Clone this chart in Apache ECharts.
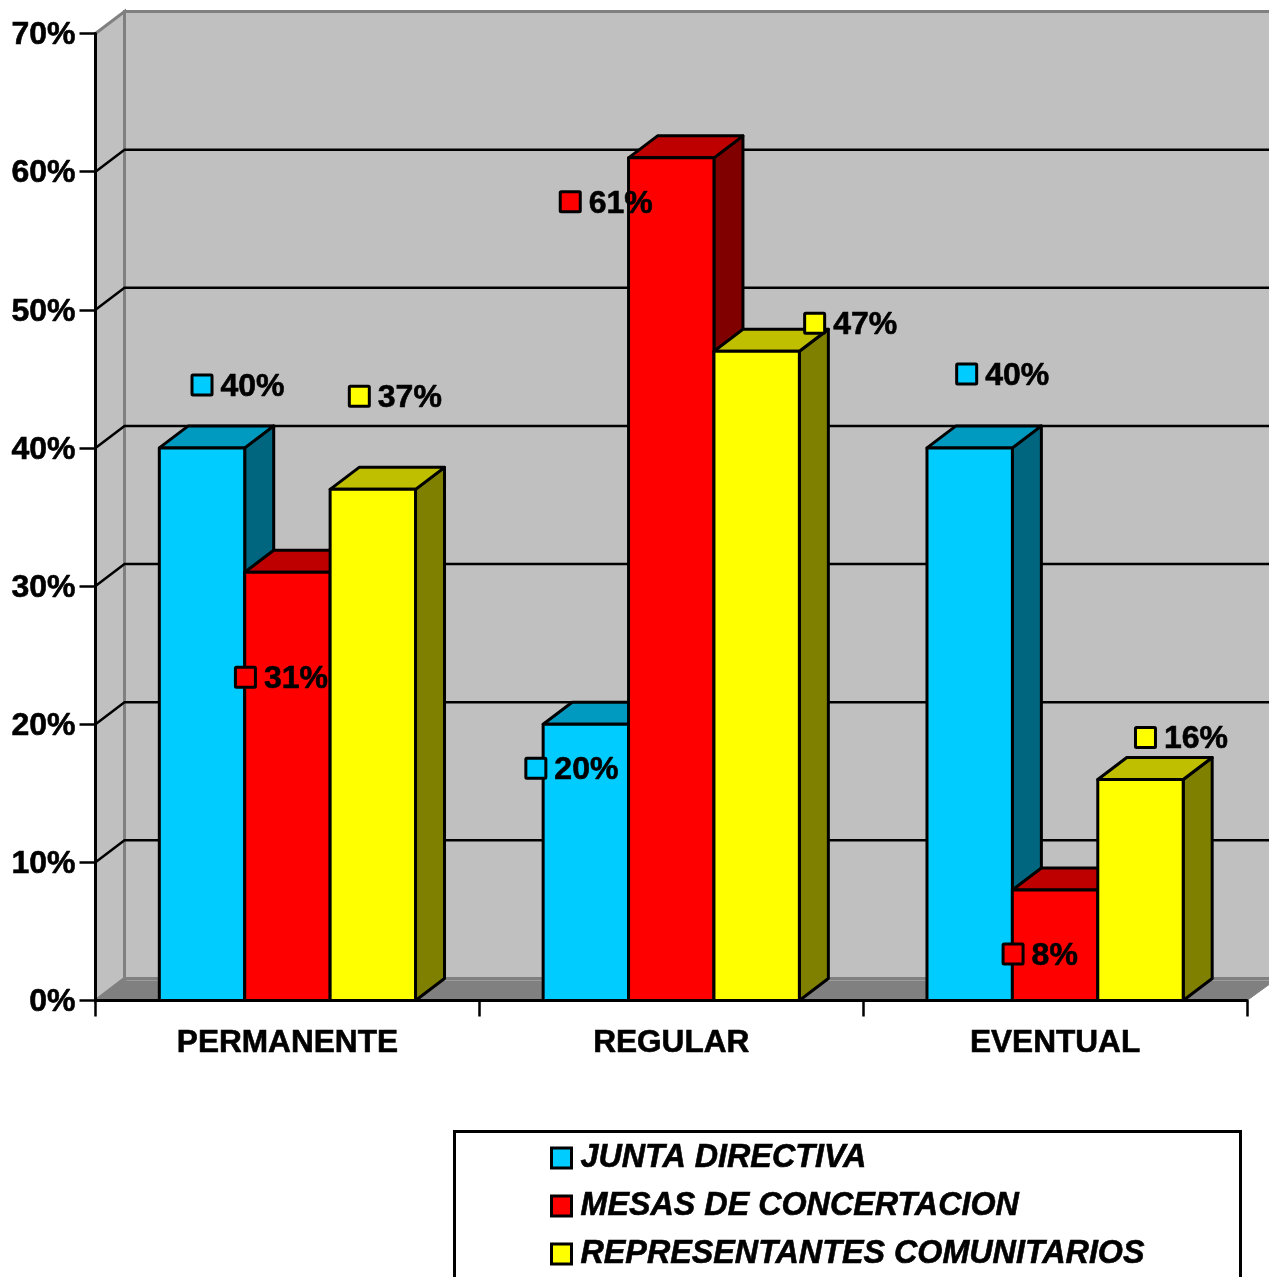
<!DOCTYPE html>
<html>
<head>
<meta charset="utf-8">
<style>html,body{margin:0;padding:0;background:#fff;overflow:hidden}#chart{width:1269px;height:1277px}</style>
<script src="https://cdn.jsdelivr.net/npm/echarts@6/dist/echarts.min.js"></script>
</head>
<body>
<div id="chart"></div>
<script>
// Participation by attendance type and group
const categories = ['PERMANENTE', 'REGULAR', 'EVENTUAL'];
const juntaDirectiva = [40, 20, 40];
const mesasConcertacion = [31, 61, 8];
const representantesComunitarios = [37, 47, 16];
const yTicks = [10, 20, 30, 40, 50, 60, 70];

const seriesNames = ['JUNTA DIRECTIVA', 'MESAS DE CONCERTACION', 'REPRESENTANTES COMUNITARIOS'];
const seriesValues = [juntaDirectiva, mesasConcertacion, representantesComunitarios];

// Front, top and side face shades for each group
const faceColors = [
  ['#00CCFF', '#0099BF', '#006680'],
  ['#FF0000', '#BF0000', '#800000'],
  ['#FFFF00', '#BFBF00', '#808000']
];

// Value-label placement: key square relative to the top-centre of the bar front
const labelShift = [
  [[0, -63], [-50, 44], [-3, -74]],
  [[-42, 105], [-101, 44], [-42, 64]],
  [[-13.5, -93], [58, -28], [5, -42]]
];

const depthX = 29, depthY = 22;
const barShare = 0.2225;
const font = '"Liberation Sans", Arial, sans-serif';
const edge = { stroke: '#000', lineWidth: 3, lineJoin: 'round' };

function bandLeft(api, index) {
  return api.coord([index, 0])[0] - api.size([1, 0])[0] / 2;
}

function poly(points, fill, stroke) {
  return { type: 'polygon', shape: { points }, style: Object.assign({ fill }, stroke) };
}

// Side wall, back wall and floor of the box
function renderBox(params, api) {
  const x0 = bandLeft(api, 0);
  const x1 = bandLeft(api, categories.length);
  const yBase = api.coord([0, 0])[1];
  const yTop = api.coord([0, 70])[1];
  const wall = { stroke: '#808080', lineWidth: 3 };
  return {
    type: 'group',
    children: [
      poly([[x0 + depthX, yBase - depthY + 1], [x1 + depthX, yBase - depthY + 1], [x1, yBase], [x0, yBase]], '#808080', { stroke: '#808080', lineWidth: 1 }),
      poly([[x0 + depthX, yTop - depthY], [x1 + depthX + 10, yTop - depthY], [x1 + depthX + 10, yBase - depthY], [x0 + depthX, yBase - depthY]], '#C0C0C0', wall),
      poly([[x0, yTop], [x0 + depthX, yTop - depthY], [x0 + depthX, yBase - depthY], [x0, yBase]], '#C0C0C0', wall),
      { type: 'line', shape: { x1: x0 + depthX + 2, y1: yBase - depthY + 2, x2: x1 + depthX, y2: yBase - depthY + 2 }, style: { stroke: '#9C9C9C', lineWidth: 1 } }
    ]
  };
}

// Horizontal rule across the back wall with its diagonal on the side wall
function renderRule(params, api) {
  const x0 = bandLeft(api, 0);
  const x1 = bandLeft(api, categories.length);
  const y = api.coord([0, api.value(0)])[1];
  if (api.value(0) === 70) return { type: 'group', children: [] };
  return {
    type: 'polyline',
    shape: { points: [[x0, y], [x0 + depthX, y - depthY], [x1 + depthX + 10, y - depthY]] },
    style: { fill: null, stroke: '#000', lineWidth: 2.5 }
  };
}

function barRenderer(seriesIndex) {
  return function (params, api) {
    const cat = api.value(0);
    const band = api.size([1, 0])[0];
    const w = band * barShare;
    const left = bandLeft(api, cat) + (band - 3 * w) / 2 + seriesIndex * w;
    const right = left + w;
    const top = api.coord([cat, api.value(1)])[1];
    const base = api.coord([cat, 0])[1];
    const c = faceColors[seriesIndex];
    return {
      type: 'group',
      children: [
        poly([[right, top], [right + depthX, top - depthY], [right + depthX, base - depthY], [right, base]], c[2], edge),
        poly([[left, top], [left + depthX, top - depthY], [right + depthX, top - depthY], [right, top]], c[1], edge),
        poly([[left, top], [right, top], [right, base], [left, base]], c[0], edge)
      ]
    };
  };
}

// Coloured key square followed by the percentage
function renderValueLabel(params, api) {
  const s = api.value(0), cat = api.value(1), val = api.value(2);
  const band = api.size([1, 0])[0];
  const w = band * barShare;
  const cx = bandLeft(api, cat) + (band - 3 * w) / 2 + (s + 0.5) * w + labelShift[s][cat][0];
  const cy = api.coord([cat, val])[1] + labelShift[s][cat][1];
  return {
    type: 'group',
    children: [
      { type: 'rect', shape: { x: cx - 10, y: cy - 10, width: 20, height: 20, r: 1 },
        style: { fill: faceColors[s][0], stroke: '#000', lineWidth: 3 } },
      { type: 'text', x: cx + 18.5, y: cy + 2,
        style: { text: val + '%', fill: '#000', stroke: '#000', lineWidth: 0.6, font: 'bold 32px ' + font, textAlign: 'left', textVerticalAlign: 'middle' } }
    ]
  };
}

const labelRows = [];
seriesValues.forEach((vals, s) => vals.forEach((v, c) => labelRows.push([s, c, v])));

const heavyText = { textBorderColor: '#000', textBorderWidth: 0.6 };

const chart = echarts.init(document.getElementById('chart'), null, { renderer: 'canvas' });
chart.setOption({
  animation: false,
  color: faceColors.map(c => c[0]),
  grid: { left: 95.5, right: 22, top: 33.5, bottom: 276.5, containLabel: false },
  graphic: [{
    type: 'rect', z: 1, left: 453, top: 1130,
    shape: { width: 786, height: 170 },
    style: { fill: '#fff', stroke: '#000', lineWidth: 3 }
  }],
  legend: {
    z: 10, left: 550, top: 1127, orient: 'vertical', padding: [9, 0, 0, 0],
    icon: 'rect', itemWidth: 20, itemHeight: 20, itemGap: 4, align: 'left',
    itemStyle: { borderColor: '#000', borderWidth: 3 },
    textStyle: Object.assign({ color: '#000', fontFamily: font, fontWeight: 'bold', fontStyle: 'italic', fontSize: 32.3, padding: [8, 0, 0, 4], lineHeight: 36 }, heavyText),
    data: seriesNames
  },
  xAxis: {
    type: 'category', data: categories, z: 8,
    axisLine: { lineStyle: { color: '#000', width: 3 } },
    axisTick: { show: true, length: 16, lineStyle: { color: '#000', width: 2.5 } },
    axisLabel: Object.assign({ color: '#000', fontFamily: font, fontWeight: 'bold', fontSize: 31.6, margin: 27 }, heavyText)
  },
  yAxis: {
    type: 'value', min: 0, max: 70, interval: 10, z: 8,
    axisLine: { show: true, lineStyle: { color: '#000', width: 3 } },
    axisTick: { show: true, length: 16, lineStyle: { color: '#000', width: 2.5 } },
    splitLine: { show: false },
    // A short line box anchored at the tick sets the label just under tick centre
    axisLabel: Object.assign({ color: '#000', fontFamily: font, fontWeight: 'bold', fontSize: 32, margin: 20, verticalAlign: 'top', lineHeight: 4, formatter: '{value}%' }, heavyText)
  },
  series: [
    { type: 'custom', silent: true, z: 1, clip: false, renderItem: renderBox, data: [[0]], encode: { x: [], y: [] } },
    { type: 'custom', silent: true, z: 2, clip: false, renderItem: renderRule, data: yTicks.map(v => [v]), encode: { x: [], y: [] } },
    ...seriesNames.map((name, s) => ({
      type: 'custom', name, z: 3 + s, clip: false, renderItem: barRenderer(s),
      itemStyle: { color: faceColors[s][0] },
      encode: { x: 0, y: 1 },
      data: seriesValues[s].map((v, c) => [c, v])
    })),
    { type: 'custom', silent: true, z: 7, clip: false, renderItem: renderValueLabel, data: labelRows, encode: { x: [], y: [] } }
  ]
});
</script>
</body>
</html>
